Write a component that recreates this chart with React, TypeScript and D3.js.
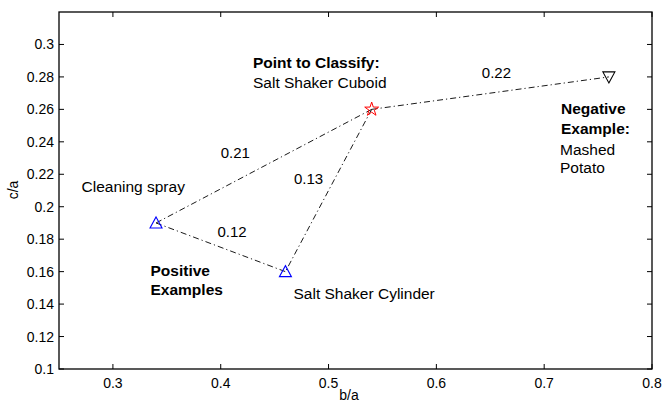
import React from "react";
import * as d3 from "d3";

// objects, in (b/a, c/a)
const objNames = ["Cleaning spray", "Salt Shaker Cylinder", "Salt Shaker Cuboid", "Mashed Potato"];
const objX = [0.34, 0.46, 0.54, 0.76];
const objY = [0.19, 0.16, 0.26, 0.28];
const objKind = ["pos", "pos", "query", "neg"];

// edges between objects, with their distance labels (label position in data coords)
const edgeFrom = [2, 2, 2, 0];
const edgeTo = [0, 1, 3, 1];
const edgeDist = [0.21, 0.13, 0.22, 0.12];
const edgeLabelX = [0.4135, 0.4815, 0.6557, 0.4105];
const edgeLabelY = [0.2302, 0.2141, 0.2793, 0.1815];

const xTicks = [0.3, 0.4, 0.5, 0.6, 0.7, 0.8];
const yTicks = [0.1, 0.12, 0.14, 0.16, 0.18, 0.2, 0.22, 0.24, 0.26, 0.28, 0.3];

const W = 665, H = 403;
const margin = { left: 59, right: 13, top: 12, bottom: 34 };
const font = "Liberation Sans, Arial, Helvetica, sans-serif";
const fs = 15.5;

export default function App() {
  const x = d3.scaleLinear().domain([0.25, 0.8]).range([margin.left, W - margin.right]);
  const y = d3.scaleLinear().domain([0.1, 0.32]).range([H - margin.bottom, margin.top]);
  const line = d3.line<number>().x((i) => x(objX[i])).y((i) => y(objY[i]));
  const tri = (cx: number, cy: number, down: boolean) => {
    const s = down ? -1 : 1;
    return `M${cx},${cy - 6 * s}L${cx + 6},${cy + 5 * s}L${cx - 6},${cy + 5 * s}Z`;
  };
  const star = d3.symbol().type(d3.symbolStar).size(60)();
  const x0 = x(0.25), x1 = x(0.8), y0 = y(0.1), y1 = y(0.32);

  return (
    <svg width={W} height={H} style={{ position: "absolute", left: 0, top: 0 }} fontFamily={font}>
      <rect width={W} height={H} fill="#fff" />
      {/* connections */}
      {edgeFrom.map((f, i) => (
        <path key={i} d={line([f, edgeTo[i]]) || ""} fill="none" stroke="#000" strokeWidth={0.9} strokeDasharray="6 3 1.2 3" />
      ))}
      {/* axes box */}
      <rect x={x0} y={y1} width={x1 - x0} height={y0 - y1} fill="none" stroke="#000" strokeWidth={1.3} />
      {xTicks.map((t) => (
        <g key={"x" + t}>
          <line x1={x(t)} x2={x(t)} y1={y0} y2={y0 - 5} stroke="#000" />
          <line x1={x(t)} x2={x(t)} y1={y1} y2={y1 + 5} stroke="#000" />
          <text x={x(t)} y={y0 + 19} textAnchor="middle" fontSize={14}>{t}</text>
        </g>
      ))}
      {yTicks.map((t) => (
        <g key={"y" + t}>
          <line x1={x0} x2={x0 + 5} y1={y(t)} y2={y(t)} stroke="#000" />
          <line x1={x1} x2={x1 - 5} y1={y(t)} y2={y(t)} stroke="#000" />
          <text x={x0 - 5} y={y(t) + 5} textAnchor="end" fontSize={14}>{d3.format("~g")(t)}</text>
        </g>
      ))}
      <text x={349} y={H - 3} textAnchor="middle" fontSize={14}>b/a</text>
      <text transform={`translate(18,190) rotate(-90)`} textAnchor="middle" fontSize={14}>c/a</text>
      {/* markers */}
      {objX.map((v, i) =>
        objKind[i] === "query" ? (
          <path key={i} d={star} transform={`translate(${x(v)},${y(objY[i])})`} fill="none" stroke="#f00" strokeWidth={1} />
        ) : (
          <path key={i} d={tri(x(v), y(objY[i]), objKind[i] === "neg")} fill="none" stroke={objKind[i] === "neg" ? "#000" : "#00f"} strokeWidth={1.1} />
        )
      )}
      {/* distance labels */}
      {edgeDist.map((d, i) => (
        <text key={i} x={x(edgeLabelX[i])} y={y(edgeLabelY[i])} fontSize={15} textAnchor="middle">{d}</text>
      ))}
      {/* annotations */}
      <text x={253} y={68} fontSize={fs} fontWeight="bold">Point to Classify:</text>
      <text x={253} y={88} fontSize={fs}>{objNames[2]}</text>
      <text x={81.5} y={191.5} fontSize={fs}>{objNames[0]}</text>
      <text x={150.5} y={276} fontSize={fs} fontWeight="bold">Positive</text>
      <text x={150.5} y={294.5} fontSize={fs} fontWeight="bold">Examples</text>
      <text x={293.5} y={298.5} fontSize={fs}>{objNames[1]}</text>
      <text x={561} y={114} fontSize={fs} fontWeight="bold">Negative</text>
      <text x={561} y={133.5} fontSize={fs} fontWeight="bold">Example:</text>
      <text x={560} y={155} fontSize={fs}>Mashed</text>
      <text x={560} y={172.5} fontSize={fs}>Potato</text>
    </svg>
  );
}
